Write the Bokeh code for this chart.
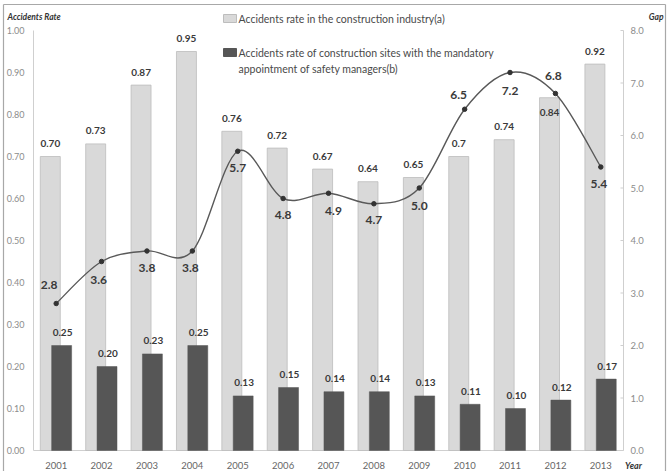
import numpy as np
from bokeh.plotting import figure
from bokeh.models import Range1d
from bokeh.core.properties import value
from bokeh.embed import file_html
from bokeh.resources import INLINE

# ---------------- data ----------------
years = ["2001", "2002", "2003", "2004", "2005", "2006", "2007",
         "2008", "2009", "2010", "2011", "2012", "2013"]
rate_industry = [0.70, 0.73, 0.87, 0.95, 0.76, 0.72, 0.67, 0.64, 0.65, 0.70, 0.74, 0.84, 0.92]
rate_industry_text = ["0.70", "0.73", "0.87", "0.95", "0.76", "0.72", "0.67",
                      "0.64", "0.65", "0.7", "0.74", "0.84", "0.92"]
rate_sites = [0.25, 0.20, 0.23, 0.25, 0.13, 0.15, 0.14, 0.14, 0.13, 0.11, 0.10, 0.12, 0.17]
gap = [2.8, 3.6, 3.8, 3.8, 5.7, 4.8, 4.9, 4.7, 5.0, 6.5, 7.2, 6.8, 5.4]
left_ticks = [0.0, 0.1, 0.2, 0.3, 0.4, 0.5, 0.6, 0.7, 0.8, 0.9, 1.0]
right_ticks = [0, 1, 2, 3, 4, 5, 6, 7, 8]
legend_a = "Accidents rate in the construction industry(a)"
legend_b1 = "Accidents rate of construction sites with the mandatory"
legend_b2 = "appointment of safety managers(b)"
title_left = "Accidents Rate"
title_right = "Gap"
title_x = "Year"

# ---------------- styling / layout (not data) ----------------
FONT = "Lato"
W, H = 670, 471
FL, FR, FB = 33, 623, 450          # plot-area edges in px
PX_X = (FR - FL) / 13.0            # px per category
PX_Y = 420.0                       # px per 1.0 of rate
gap_scale = 8.0                    # right axis max for rate 1.0

LIGHT = "#d9d9d9"
LIGHT_EDGE = "#bdbdbd"
DARK = "#565656"
LINE = "#595959"
TXT = "#3a3a3a"
TICK_TXT = "#8c8c8c"
AXIS = "#cfcfcf"

n = len(years)
xc = np.arange(n) + 0.5

def dx(px):
    return (px - FL) / PX_X

def dy(py):
    return (FB - py) / PX_Y

p = figure(width=W, height=H, output_backend="svg", toolbar_location=None,
           x_range=Range1d(dx(0), dx(W)), y_range=Range1d(dy(H), dy(0)),
           x_axis_type=None, y_axis_type=None, min_border=0)
p.extra_y_ranges = {"gap": Range1d(dy(H) * gap_scale, dy(0) * gap_scale)}
p.xgrid.visible = False
p.ygrid.visible = False
p.outline_line_color = None
p.background_fill_color = "white"
p.border_fill_color = "white"

# outer chart border (top, left, right)
p.segment(x0=[dx(3), dx(3), dx(665)], y0=[dy(4), dy(4), dy(4)],
          x1=[dx(665), dx(3), dx(665)], y1=[dy(4), dy(H + 2), dy(H + 2)],
          line_color="#a8a8a8", line_width=1.2)

# axis lines
p.segment(x0=[0, 13, 0], y0=[0, 0, 0], x1=[0, 13, 13], y1=[1.0, 1.0, 0],
          line_color=AXIS, line_width=1)

# left axis tick labels
p.text(x=[dx(24)] * len(left_ticks), y=left_ticks,
       text=["%.2f" % t for t in left_ticks], text_align="right",
       text_baseline="middle", text_font=value(FONT), text_font_size="9px",
       text_color=TICK_TXT)

# right axis ticks and labels
p.segment(x0=[dx(620)] * len(right_ticks), y0=right_ticks,
          x1=[13] * len(right_ticks), y1=right_ticks,
          line_color=AXIS, line_width=1, y_range_name="gap")
p.text(x=[dx(630)] * len(right_ticks), y=right_ticks,
       text=["%.1f" % t for t in right_ticks], text_align="left",
       text_baseline="middle", text_font=value(FONT), text_font_size="9.5px",
       text_color=TICK_TXT, y_range_name="gap")

# category labels
p.text(x=xc, y=[dy(465)] * n, text=years, text_align="center",
       text_baseline="middle", text_font=value(FONT), text_font_size="9.5px",
       text_color="#666666")

# bars
p.vbar(x=xc - 0.13, top=rate_industry, width=0.44, fill_color=LIGHT,
       line_color=LIGHT_EDGE, line_width=0.8)
p.vbar(x=xc + 0.12, top=rate_sites, width=0.44, fill_color=DARK,
       line_color=DARK, line_width=0.5)

# smooth gap line (bezier segments through the data points)
pts_x = np.array(xc, dtype=float)
pts_y = np.array(gap, dtype=float)
px_ = np.concatenate([[pts_x[0]], pts_x, [pts_x[-1]]])
py_ = np.concatenate([[pts_y[0]], pts_y, [pts_y[-1]]])
x0 = px_[1:-2]; y0 = py_[1:-2]
x1 = px_[2:-1]; y1 = py_[2:-1]
cx0 = x0 + (px_[2:-1] - px_[0:-3]) / 6.0
cy0 = y0 + (py_[2:-1] - py_[0:-3]) / 6.0
cx1 = x1 - (px_[3:] - px_[1:-2]) / 6.0
cy1 = y1 - (py_[3:] - py_[1:-2]) / 6.0
p.bezier(x0=x0, y0=y0, x1=x1, y1=y1, cx0=cx0, cy0=cy0, cx1=cx1, cy1=cy1,
         line_color=LINE, line_width=1.4, y_range_name="gap")
p.scatter(x=xc, y=gap, size=4.5, fill_color="#333333", line_color="#333333",
          y_range_name="gap")

# value labels
light_off = [-13] * n
light_off[11] = 15
p.text(x=xc - 0.13, y=rate_industry, text=rate_industry_text,
       y_offset=light_off, text_align="center", text_baseline="middle",
       text_font=value(FONT), text_font_size="10px", text_font_style="bold",
       text_color=TXT)
p.text(x=xc + 0.14, y=rate_sites, text=["%.2f" % v for v in rate_sites],
       y_offset=-13, text_align="center", text_baseline="middle",
       text_font=value(FONT), text_font_size="10px", text_font_style="bold",
       text_color=TXT)

gap_dx = [-7, -3, 0, -2, 0, 0, 5, 0, 0, -6, 0, -2, -2]
gap_dy = [-19, 18, 17, 17, 17, 16, 18, 16, 18, -14, 18, -18, 17]
p.text(x=xc, y=gap, text=["%.1f" % v for v in gap], x_offset=gap_dx,
       y_offset=gap_dy, text_align="center", text_baseline="middle",
       text_font=value(FONT), text_font_size="12px", text_font_style="bold",
       text_color=TXT, y_range_name="gap")

# legend (drawn manually)
p.rect(x=[dx(229.5), dx(229.5)], y=[dy(18), dy(52)], width=13, height=8,
       width_units="screen", height_units="screen",
       fill_color=[LIGHT, DARK], line_color=[LIGHT_EDGE, DARK])
p.text(x=[dx(238)] * 3, y=[dy(18), dy(52), dy(68)],
       text=[legend_a, legend_b1, legend_b2], text_align="left",
       text_baseline="middle", text_font=value(FONT), text_font_size="10.5px",
       text_color="#4a4a4a")

# axis titles
p.text(x=[dx(7)], y=[dy(16)], text=[title_left], text_align="left",
       text_baseline="middle", text_font=value(FONT), text_font_size="8.5px",
       text_font_style="bold italic", text_color="#333333")
p.text(x=[dx(663)], y=[dy(16)], text=[title_right], text_align="right",
       text_baseline="middle", text_font=value(FONT), text_font_size="8.5px",
       text_font_style="bold italic", text_color="#333333")
p.text(x=[dx(633)], y=[dy(465)], text=[title_x], text_align="center",
       text_baseline="middle", text_font=value(FONT), text_font_size="9px",
       text_font_style="bold italic", text_color="#333333")

open("out.html", "w").write(file_html(p, INLINE))
